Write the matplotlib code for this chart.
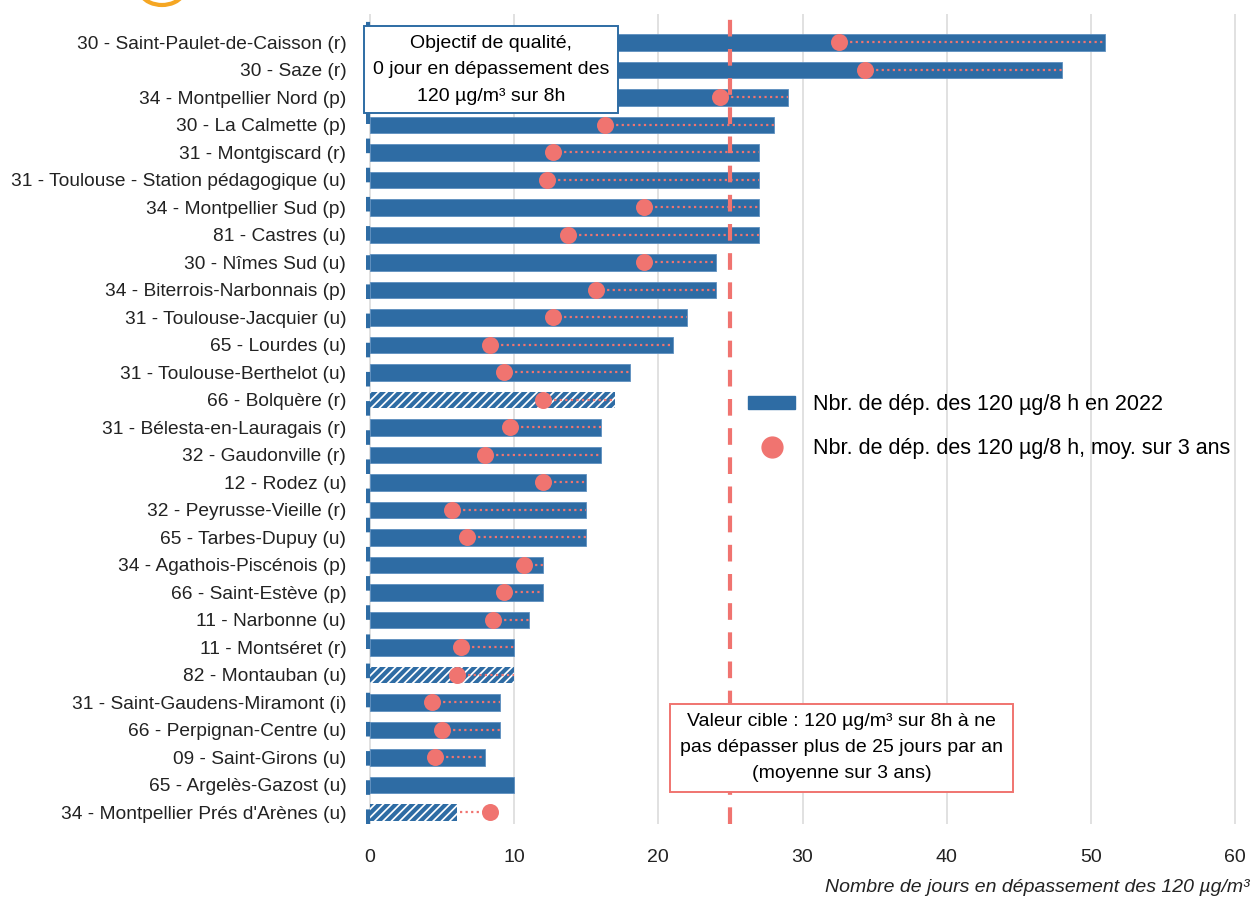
import matplotlib.pyplot as plt
from matplotlib.patches import Arc, Patch
from matplotlib.lines import Line2D
import numpy as np

plt.rcParams['font.family'] = ['Liberation Sans', 'DejaVu Sans']
plt.rcParams['hatch.linewidth'] = 3.0

# données : stations, dépassements 2022, moyenne sur 3 ans
stations = [
    "30 - Saint-Paulet-de-Caisson (r)", "30 - Saze (r)", "34 - Montpellier Nord (p)",
    "30 - La Calmette (p)", "31 - Montgiscard (r)", "31 - Toulouse - Station pédagogique (u)",
    "34 - Montpellier Sud (p)", "81 - Castres (u)", "30 - Nîmes Sud (u)",
    "34 - Biterrois-Narbonnais (p)", "31 - Toulouse-Jacquier (u)", "65 - Lourdes (u)",
    "31 - Toulouse-Berthelot (u)", "66 - Bolquère (r)", "31 - Bélesta-en-Lauragais (r)",
    "32 - Gaudonville (r)", "12 - Rodez (u)", "32 - Peyrusse-Vieille (r)",
    "65 - Tarbes-Dupuy (u)", "34 - Agathois-Piscénois (p)", "66 - Saint-Estève (p)",
    "11 - Narbonne (u)", "11 - Montséret (r)", "82 - Montauban (u)",
    "31 - Saint-Gaudens-Miramont (i)", "66 - Perpignan-Centre (u)", "09 - Saint-Girons (u)",
    "65 - Argelès-Gazost (u)", "34 - Montpellier Prés d'Arènes (u)",
]
dep_2022 = [51, 48, 29, 28, 27, 27, 27, 27, 24, 24, 22, 21, 18, 17, 16, 16, 15, 15, 15,
            12, 12, 11, 10, 10, 9, 9, 8, 10, 6]
moy_3ans = [32.5, 34.3, 24.3, 16.3, 12.7, 12.3, 19.0, 13.7, 19.0, 15.7, 12.7, 8.3, 9.3,
            12.0, 9.7, 8.0, 12.0, 5.7, 6.7, 10.7, 9.3, 8.5, 6.3, 6.0, 4.3, 5.0, 4.5,
            None, 8.3]
# stations à données incomplètes (barres hachurées)
incomplet = ["66 - Bolquère (r)", "82 - Montauban (u)", "34 - Montpellier Prés d'Arènes (u)"]

bleu = '#2E6CA4'
rouge = '#F07470'

fig = plt.figure(figsize=(12.55, 9.0), dpi=100)
ax = fig.add_axes([0.2914, 0.085, 0.6973, 0.900])

y = np.arange(len(stations))
for i, (s, v) in enumerate(zip(stations, dep_2022)):
    if s in incomplet:
        ax.barh(i, v, height=0.6, color='white', edgecolor=bleu, hatch='////',
                linewidth=0, zorder=2)
    else:
        ax.barh(i, v, height=0.6, color=bleu, edgecolor='#5d8fc0', linewidth=0.6, zorder=2)

for i, (v, m) in enumerate(zip(dep_2022, moy_3ans)):
    if m is None:
        continue
    ax.plot([m, v], [i, i], color=rouge, linestyle=(0, (1, 1.5)), linewidth=1.6, zorder=3)
    ax.scatter(m, i, s=150, color=rouge, zorder=4, linewidths=0)

ax.axvline(25, color=rouge, linewidth=3, linestyle=(0, (4, 3)), zorder=5)
ax.axvline(-0.12, color=bleu, linewidth=3, linestyle=(0, (3.5, 3.5)), zorder=5)

ax.set_yticks(y)
ax.set_yticklabels(stations, fontsize=13.8, color='#222222')
ax.set_ylim(len(stations) - 0.6, -1.05)
ax.set_xlim(-0.3, 60.4)
ax.set_xticks(range(0, 61, 10))
ax.tick_params(axis='x', labelsize=14, colors='#222222', length=0, pad=18)
ax.tick_params(axis='y', length=0, pad=14)
ax.grid(axis='x', color='#dcdcdc', linewidth=1.2, zorder=0)
ax.set_axisbelow(True)
for sp in ax.spines.values():
    sp.set_visible(False)

ax.text(8.4, 1.0, "Objectif de qualité,\n0 jour en dépassement des\n120 µg/m³ sur 8h",
        ha='center', va='center', fontsize=14, linespacing=1.72, zorder=6,
        bbox=dict(boxstyle='square,pad=0.45', facecolor='white', edgecolor=bleu, linewidth=1.4))
ax.text(32.7, 25.64, "Valeur cible : 120 µg/m³ sur 8h à ne\npas dépasser plus de 25 jours par an\n(moyenne sur 3 ans)",
        ha='center', va='center', fontsize=14, linespacing=1.68, zorder=6,
        bbox=dict(boxstyle='square,pad=0.5', facecolor='white', edgecolor=rouge, linewidth=1.4))

handles = [Patch(facecolor=bleu, edgecolor=bleu),
           Line2D([], [], marker='o', color=rouge, linestyle='none', markersize=15)]
ax.legend(handles, ["Nbr. de dép. des 120 µg/8 h en 2022",
                    "Nbr. de dép. des 120 µg/8 h, moy. sur 3 ans"],
          loc='upper left', bbox_to_anchor=(0.437, 0.53), frameon=False,
          borderaxespad=0, borderpad=0,
          fontsize=15.5, handlelength=2.2, handleheight=0.55, labelspacing=1.05,
          handletextpad=0.8)

fig.text(0.996, 0.004, "Nombre de jours en dépassement des 120 µg/m³", ha='right',
         va='bottom', fontsize=14, style='italic', color='#222222')

# fragment du logo en haut
fig.patches.append(Arc((162, 912), 46, 34, theta1=200, theta2=340, color='#F5A623',
                       linewidth=3, transform=None))

fig.savefig('out.png', dpi=100)
